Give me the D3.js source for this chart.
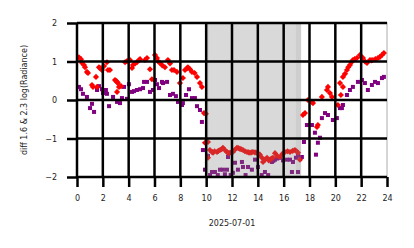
<!DOCTYPE html>
<html>
<head>
<meta charset="utf-8">
<script src="https://cdn.jsdelivr.net/npm/d3@7"></script>
<style>
  body { margin: 0; background: #fff; }
  svg { font-family: 'DejaVu Sans', sans-serif; }
</style>
</head>
<body>
<div id="chart"></div>
<script>
// hours of day (UTC) and diff values
const redHours = [0.15,0.31,0.39,0.54,0.62,0.77,0.85,1.16,1.24,1.47,1.55,1.70,1.80,1.93,2.09,2.32,2.40,2.55,2.94,3.02,3.10,3.10,3.17,3.25,3.41,3.72,3.87,4.00,4.10,4.26,4.33,4.50,4.64,4.80,4.88,5.26,5.42,5.65,5.80,6.04,6.19,6.30,6.42,6.60,6.81,7.04,7.20,7.35,7.51,7.74,7.97,8.20,8.36,8.50,8.59,8.75,8.90,9.10,9.29,9.52,9.67,9.83,9.98,
  9.91,10.14,10.14,10.29,10.45,10.53,10.65,10.84,10.95,11.07,11.20,11.30,11.45,11.61,11.72,11.84,11.95,12.07,12.20,12.38,12.50,12.62,12.72,12.85,13.00,13.16,13.28,13.39,13.50,13.62,13.78,13.93,14.05,14.16,14.32,14.40,14.55,14.71,14.85,14.94,15.05,15.17,15.33,15.50,15.71,15.90,16.10,16.30,16.49,16.70,16.87,17.00,17.11,17.26,
  17.49,17.65,17.88,18.19,18.27,18.58,18.65,18.96,19.35,19.43,19.58,19.74,20.20,20.36,20.43,20.59,20.59,20.75,20.90,21.00,21.13,21.25,21.36,21.50,21.67,21.90,22.02,22.14,22.30,22.45,22.68,22.80,22.91,23.10,23.30,23.45,23.61,23.76];
const redValues = [1.11,1.06,0.96,0.91,0.85,0.73,0.70,0.39,0.34,0.60,0.34,0.85,0.82,0.78,0.88,0.98,0.78,0.78,0.52,0.50,0.47,0.21,0.44,0.34,0.36,0.98,1.01,1.02,1.04,0.83,0.91,0.95,0.98,1.04,1.06,1.04,1.09,0.80,0.54,1.17,1.09,1.00,0.96,0.90,0.85,1.04,0.95,0.78,0.78,0.73,0.44,0.57,0.78,0.82,0.85,0.80,0.73,0.70,0.60,0.44,0.34,-0.34,-0.36,
  -1.11,-1.09,-1.50,-1.30,-1.35,-1.37,-1.33,-1.35,-1.32,-1.30,-1.28,-1.24,-1.30,-1.35,-1.38,-1.37,-1.36,-1.35,-1.30,-1.24,-1.25,-1.27,-1.28,-1.30,-1.33,-1.35,-1.36,-1.37,-1.36,-1.35,-1.36,-1.37,-1.40,-1.42,-1.50,-1.61,-1.55,-1.50,-1.57,-1.55,-1.52,-1.50,-1.38,-1.45,-1.48,-1.40,-1.35,-1.33,-1.35,-1.32,-1.30,-1.33,-1.37,-1.55,
  -0.39,-0.34,0.0,-0.05,-0.08,-0.70,-0.65,0.08,0.26,0.34,0.18,0.08,-0.13,0.44,0.13,0.34,0.60,0.68,0.78,0.85,0.91,0.98,1.04,1.06,1.09,1.17,1.12,1.09,1.00,0.96,1.04,1.03,1.04,1.06,1.09,1.12,1.17,1.22];

const purpleHours = [0.15,0.31,0.46,0.77,1.01,1.16,1.32,1.55,1.70,1.93,2.01,2.24,2.32,2.48,2.79,3.10,3.33,3.48,3.64,3.87,4.02,4.26,4.41,4.64,4.88,5.11,5.19,5.42,5.65,5.88,6.04,6.19,6.35,6.58,6.66,6.97,7.20,7.43,7.66,7.82,8.13,8.20,8.44,8.67,8.90,9.13,9.29,9.52,9.67,9.75,9.91,
  10.14,10.30,10.45,10.68,10.90,11.07,11.30,11.45,11.61,11.69,11.90,12.07,12.23,12.46,12.77,12.85,13.05,13.24,13.54,13.78,14.01,14.30,14.55,14.80,15.09,15.20,15.33,15.50,15.71,15.95,16.25,16.49,16.64,16.72,16.95,17.11,17.11,17.41,
  17.57,17.80,18.19,18.42,18.50,18.65,18.81,18.96,19.20,19.43,19.81,20.12,20.36,20.51,20.59,20.90,21.13,21.36,21.75,22.06,22.29,22.52,22.83,23.07,23.30,23.61,23.76];
const purpleValues = [0.34,0.28,0.16,0.08,-0.21,-0.10,-0.31,0.26,0.36,0.28,0.18,0.26,0.16,-0.16,0.08,-0.05,-0.08,0.05,0.34,0.03,0.41,0.21,0.23,0.26,0.28,0.31,0.47,0.47,0.21,0.26,0.52,0.41,0.31,0.47,0.44,0.47,0.13,0.16,0.10,-0.05,-0.13,-0.08,0.13,0.28,0.05,0.05,-0.16,-0.26,-0.57,-1.30,-1.81,
  -1.45,-1.95,-1.87,-1.87,-1.95,-1.81,-1.81,-1.93,-1.81,-1.48,-1.95,-1.89,-1.63,-1.81,-1.61,-1.74,-1.95,-1.74,-1.81,-1.55,-1.74,-1.95,-1.87,-1.95,-1.61,-1.58,-1.55,-1.52,-1.50,-1.57,-1.55,-1.55,-1.87,-1.61,-1.50,-1.45,-1.87,-1.48,
  -1.09,-0.65,-0.65,-0.85,-1.42,-1.11,-0.98,-0.47,-0.34,-0.39,-0.52,-0.47,-0.21,-0.21,-0.13,0.13,0.26,0.34,0.47,0.52,0.44,0.26,0.39,0.47,0.44,0.57,0.60];

// shaded periods (hours)
const spans = [[10.05, 17.35], [10.05, 10.2], [16.95, 17.35]];
const xTicks = [0, 2, 4, 6, 8, 10, 12, 14, 16, 18, 20, 22, 24];
const yTicks = [-2, -1, 0, 1, 2];

const margin = {top: 23, right: 27, bottom: 71, left: 77};
const width = 414 - margin.left - margin.right;
const height = 248 - margin.top - margin.bottom;

const x = d3.scaleLinear().domain([0, 24]).range([0, width]);
const y = d3.scaleLinear().domain([-2, 2]).range([height, 0]);

const svg = d3.select('#chart').append('svg')
  .attr('width', 414)
  .attr('height', 248);

const g = svg.append('g')
  .attr('transform', `translate(${margin.left},${margin.top})`);

// spines
g.append('rect')
  .attr('width', width).attr('height', height)
  .attr('fill', 'none').attr('stroke', '#c8c8c8').attr('stroke-width', 1.5);

const red = redHours.map((h, i) => [h, redValues[i]]);
const purple = purpleHours.map((h, i) => [h, purpleValues[i]]);

g.append('g').selectAll('rect')
  .data(purple)
  .join('rect')
    .attr('x', d => x(d[0]) - 2)
    .attr('y', d => y(d[1]) - 2)
    .attr('width', 4).attr('height', 4)
    .attr('fill', '#800080');

const diamond = d3.symbol().type(d3.symbolDiamond2).size(24);
g.append('g').selectAll('path')
  .data(red)
  .join('path')
    .attr('transform', d => `translate(${x(d[0])},${y(d[1])})`)
    .attr('d', diamond)
    .attr('fill', '#ff0000');

// night shading drawn over the points
g.append('g').selectAll('rect')
  .data(spans)
  .join('rect')
    .attr('x', d => x(d[0]))
    .attr('y', 0)
    .attr('width', d => x(d[1]) - x(d[0]))
    .attr('height', height)
    .attr('fill', '#808080')
    .attr('fill-opacity', (d, i) => i === 0 ? 0.3 : 0.12);

// grid
g.append('g').selectAll('line')
  .data(xTicks.filter(t => t < 24))
  .join('line')
    .attr('x1', d => x(d)).attr('x2', d => x(d))
    .attr('y1', 0).attr('y2', height)
    .attr('stroke', '#000').attr('stroke-width', 2.5);
g.append('g').selectAll('line')
  .data(yTicks)
  .join('line')
    .attr('x1', 0).attr('x2', width)
    .attr('y1', d => y(d)).attr('y2', d => y(d))
    .attr('stroke', '#000').attr('stroke-width', 2.5);

const xAxis = g.append('g')
  .attr('transform', `translate(0,${height})`)
  .call(d3.axisBottom(x).tickValues(xTicks).tickSize(10).tickPadding(8).tickFormat(d3.format('d')));
const yAxis = g.append('g')
  .call(d3.axisLeft(y).tickValues(yTicks).tickSize(10).tickPadding(10)
    .tickFormat(d => d < 0 ? '\u2212' + Math.abs(d) : d));

[xAxis, yAxis].forEach(a => {
  a.select('.domain').remove();
  a.selectAll('.tick line').attr('stroke', '#000').attr('stroke-width', 2.5);
  a.selectAll('.tick text').attr('fill', '#222').attr('font-size', 8)
    .attr('font-family', "'DejaVu Sans', sans-serif");
});

svg.append('text')
  .attr('x', margin.left + width / 2)
  .attr('y', 226)
  .attr('text-anchor', 'middle')
  .attr('font-size', 8)
  .attr('fill', '#222')
  .text('2025-07-01');

svg.append('text')
  .attr('transform', `translate(27,${margin.top + height / 2}) rotate(-90)`)
  .attr('text-anchor', 'middle')
  .attr('font-size', 8)
  .attr('fill', '#222')
  .text('diff 1.6 & 2.3 log(Radiance)');
</script>
</body>
</html>
